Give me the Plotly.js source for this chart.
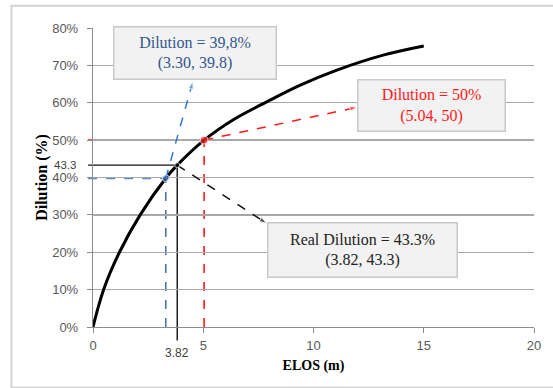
<!DOCTYPE html>
<html>
<head>
<meta charset="utf-8">
<script src="https://cdn.plot.ly/plotly-3.0.1.min.js"></script>
<style>html,body{margin:0;padding:0;background:#fff;}#chart{width:553px;height:388px;}</style>
</head>
<body>
<div id="chart"></div>
<script>
// ---- data ----
const elos = [0, 0.48, 1.2, 2.14, 3.30, 3.82, 5.04, 6.4, 7.9, 9.4, 11.0, 13.2, 15];
const dilution = [0, 10, 20, 30, 39.8, 43.3, 50, 55.6, 60.3, 64.7, 68.6, 72.8, 75.2];

const xTicks = [0, 5, 10, 15, 20];
const yTicks = [0, 10, 20, 30, 40, 50, 60, 70, 80];
const yTickText = ['0%', '10%', '20%', '30%', '40%', '50%', '60%', '70%', '80%'];

// highlighted points: [blue, red, real]
const ptX = [3.30, 5.04, 3.82];
const ptY = [39.8, 50, 43.3];
const ptTitle = ['Dilution = 39,8%', 'Dilution = 50%', 'Real Dilution = 43.3%'];
const ptCoord = ['(3.30, 39.8)', '(5.04, 50)', '(3.82, 43.3)'];

const xRange = [0, 20], yRange = [0, 80];
const px = v => (v - xRange[0]) / (xRange[1] - xRange[0]); // data -> paper x
const py = v => (v - yRange[0]) / (yRange[1] - yRange[0]); // data -> paper y

// ---- styles / layout config ----
const serif = 'Liberation Serif';
const sans = 'Liberation Sans';
const blueText = '#34568e', redCol = '#ff1a1a', blackCol = '#111';
const cfg = [
  {arrowCol: '#2f78d2', hCol: '#5b87c5', hW: 2.2, vCol: '#4a72ad', vW: 1.6, dash: 'dash', txt: blueText,
   tip: [4.53, 65.7], box: [4.61, 73.2], w: 163, h: 53, marker: '#4f7fc0', msize: 7},
  {arrowCol: redCol, hCol: redCol, hW: 1.6, vCol: redCol, vW: 1.6, dash: 'dash', txt: redCol,
   tip: [11.99, 58.8], box: [15.33, 59.2], w: 148, h: 52, marker: redCol, msize: 8},
  {arrowCol: blackCol, hCol: blackCol, hW: 1.2, vCol: blackCol, vW: 1.4, dash: 'solid', txt: '#222',
   tip: [7.88, 27.7], box: [12.2, 20.7], w: 190, h: 55, marker: blackCol, msize: 5}
];

const traces = [];
const shapes = [];
const annotations = [];

// outer chart border
shapes.push({type: 'rect', xref: 'paper', yref: 'paper', x0: -0.185, x1: 1.12, y0: -0.202, y1: 1.0747,
  line: {color: '#d4d4d4', width: 2}, fillcolor: 'rgba(0,0,0,0)', layer: 'below'});

ptX.forEach((x, i) => {
  const c = cfg[i];
  // horizontal guide from y axis
  shapes.push({type: 'line', xref: 'paper', yref: 'y', x0: -0.011, x1: px(x), y0: ptY[i], y1: ptY[i],
    line: {color: c.hCol, width: c.hW, dash: c.dash}, layer: 'between'});
  // vertical guide down to axis
  shapes.push({type: 'line', xref: 'x', yref: 'paper', x0: x, x1: x,
    y0: i === 2 ? -0.045 : 0, y1: py(ptY[i]),
    line: {color: c.vCol, width: c.vW, dash: c.dash}, layer: 'between'});
  // dashed arrow
  traces.push({x: [x, c.tip[0]], y: [ptY[i], c.tip[1]], type: 'scatter', mode: 'lines+markers',
    line: {color: c.arrowCol, width: 1.5, dash: 'dash'},
    marker: {symbol: ['circle', 'arrow'], size: [0, 8], color: c.arrowCol, angleref: 'previous'},
    hoverinfo: 'skip', showlegend: false});
  // text box
  annotations.push({x: c.box[0], y: c.box[1], xref: 'x', yref: 'y', showarrow: false,
    text: ptTitle[i] + '<br>' + ptCoord[i], width: c.w - 2, height: c.h - 2,
    bgcolor: '#f2f2f2', bordercolor: '#c9c9c9', borderwidth: 1.5, borderpad: 0,
    align: 'center', valign: 'middle',
    font: {family: serif, size: 16, color: c.txt}});
});

// main curve
traces.unshift({x: elos, y: dilution, type: 'scatter', mode: 'lines', line: {color: '#000', width: 3, shape: 'spline', smoothing: 1},
  hoverinfo: 'skip', showlegend: false});

// point markers
traces.push({x: ptX, y: ptY, type: 'scatter', mode: 'markers',
  marker: {color: cfg.map(c => c.marker), size: cfg.map(c => c.msize)}, hoverinfo: 'skip', showlegend: false});

// special tick labels
annotations.push({x: 0, y: ptY[2], xref: 'paper', yref: 'y', xanchor: 'right', yanchor: 'middle', xshift: -15, showarrow: false,
  text: String(ptY[2]), font: {family: sans, size: 11.5, color: '#404040'}});
annotations.push({x: ptX[2], y: 0, xref: 'x', yref: 'paper', xanchor: 'center', yanchor: 'middle', yshift: -26, showarrow: false,
  text: ptX[2].toFixed(2), font: {family: sans, size: 12, color: '#404040'}});

const tickFont = {family: sans, size: 13, color: '#595959'};

const layout = {
  width: 553, height: 388,
  margin: {l: 93, r: 19, t: 28, b: 61},
  paper_bgcolor: '#fff', plot_bgcolor: '#fff',
  showlegend: false,
  font: {family: sans},
  xaxis: {range: xRange, tickvals: xTicks, ticktext: xTicks.map(String), showgrid: false, zeroline: false,
    showline: true, linecolor: '#8c8c8c', linewidth: 1.2, ticks: 'outside', ticklen: 5, tickcolor: '#8c8c8c',
    tickfont: tickFont, ticklabelstandoff: 1,
    title: {text: '<b>ELOS (m)</b>', font: {family: serif, size: 14, color: '#000'}, standoff: 8}},
  yaxis: {range: yRange, tickvals: yTicks, ticktext: yTickText, showgrid: true, gridcolor: '#a8a8a8', gridwidth: 1.3,
    zeroline: false, showline: true, linecolor: '#8c8c8c', linewidth: 1.2, ticks: 'outside', ticklen: 5, tickcolor: '#8c8c8c',
    tickfont: tickFont, ticklabelstandoff: 6,
    title: {text: '<b>Dilution (%)</b>', font: {family: serif, size: 16, color: '#000'}, standoff: 0}},
  shapes: shapes,
  annotations: annotations
};

Plotly.newPlot('chart', traces, layout, {displayModeBar: false, staticPlot: true});
</script>
</body>
</html>
